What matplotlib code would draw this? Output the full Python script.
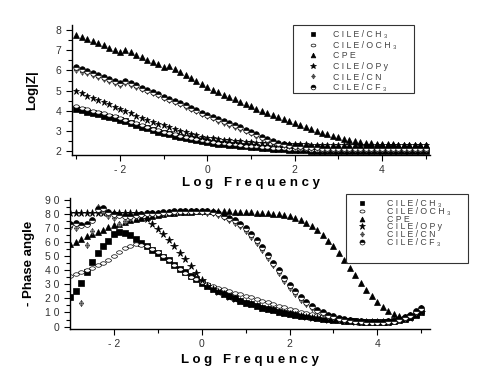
import numpy as np
import matplotlib
matplotlib.use("Agg")
import matplotlib.pyplot as plt
from matplotlib.path import Path
from matplotlib.patches import Rectangle

plt.rcParams['font.family'] = ['Liberation Sans', 'DejaVu Sans']

# log frequency grid (8 points per decade, -3 .. 5)
log_f = np.linspace(-3, 5, 65)

labels = ["C I L E / C H \u2083",
          "C I L E / O C H \u2083",
          "C P E",
          "C I L E / O P y",
          "C I L E / C N",
          "C I L E / C F \u2083"]

# ---- Log|Z| ----
z_ch3 = [4.07, 4.02, 3.96, 3.90, 3.83, 3.76, 3.69, 3.62,
         3.55, 3.47, 3.39, 3.30, 3.21, 3.12, 3.04, 2.96,
         2.89, 2.82, 2.76, 2.70, 2.64, 2.59, 2.54, 2.49,
         2.45, 2.41, 2.37, 2.34, 2.31, 2.28, 2.25, 2.23,
         2.20, 2.18, 2.16, 2.14, 2.12, 2.10, 2.08, 2.07,
         2.05, 2.04, 2.03, 2.02, 2.02, 2.01, 2.01, 2.00,
         2.00, 2.00, 2.00, 2.00, 2.00, 2.00, 2.00, 2.00,
         2.00, 2.00, 2.00, 2.00, 2.00, 2.00, 2.00, 2.00,
         2.00]
z_och3 = [4.22, 4.15, 4.08, 4.01, 3.94, 3.87, 3.79, 3.72,
          3.64, 3.55, 3.46, 3.37, 3.28, 3.19, 3.10, 3.02,
          2.95, 2.88, 2.82, 2.76, 2.70, 2.65, 2.60, 2.55,
          2.50, 2.46, 2.42, 2.39, 2.36, 2.33, 2.30, 2.27,
          2.25, 2.23, 2.21, 2.19, 2.17, 2.15, 2.13, 2.12,
          2.10, 2.09, 2.08, 2.07, 2.06, 2.06, 2.05, 2.05,
          2.05, 2.05, 2.05, 2.05, 2.05, 2.05, 2.05, 2.05,
          2.05, 2.05, 2.05, 2.05, 2.05, 2.05, 2.05, 2.05,
          2.05]
z_cpe = [7.78, 7.67, 7.57, 7.46, 7.36, 7.25, 7.14, 7.04,
         6.93, 7.02, 6.90, 6.78, 6.66, 6.54, 6.42, 6.30,
         6.15, 6.22, 6.05, 5.90, 5.75, 5.61, 5.46, 5.32,
         5.17, 5.04, 4.92, 4.80, 4.68, 4.56, 4.45, 4.34,
         4.22, 4.11, 4.00, 3.90, 3.80, 3.70, 3.60, 3.50,
         3.40, 3.30, 3.20, 3.10, 3.00, 2.91, 2.83, 2.75,
         2.68, 2.61, 2.55, 2.50, 2.46, 2.42, 2.39, 2.37,
         2.35, 2.34, 2.33, 2.32, 2.31, 2.31, 2.30, 2.30,
         2.30]
z_opy = [4.98, 4.87, 4.75, 4.64, 4.53, 4.42, 4.31, 4.20,
         4.09, 3.98, 3.87, 3.76, 3.65, 3.55, 3.45, 3.36,
         3.27, 3.18, 3.09, 3.00, 2.92, 2.85, 2.78, 2.72,
         2.67, 2.63, 2.59, 2.56, 2.53, 2.50, 2.48, 2.46,
         2.44, 2.42, 2.41, 2.40, 2.38, 2.37, 2.36, 2.35,
         2.34, 2.33, 2.33, 2.32, 2.32, 2.31, 2.31, 2.30,
         2.30, 2.30, 2.30, 2.30, 2.30, 2.30, 2.30, 2.30,
         2.30, 2.30, 2.30, 2.30, 2.30, 2.30, 2.30, 2.30,
         2.30]
z_cn = [6.03, 5.94, 5.85, 5.76, 5.66, 5.57, 5.48, 5.38,
        5.28, 5.36, 5.26, 5.16, 5.06, 4.96, 4.86, 4.76,
        4.65, 4.54, 4.43, 4.32, 4.21, 4.10, 3.98, 3.86,
        3.73, 3.62, 3.51, 3.40, 3.30, 3.20, 3.09, 2.98,
        2.87, 2.76, 2.64, 2.53, 2.43, 2.35, 2.28, 2.23,
        2.19, 2.17, 2.15, 2.14, 2.13, 2.12, 2.12, 2.12,
        2.12, 2.12, 2.12, 2.12, 2.12, 2.12, 2.12, 2.12,
        2.12, 2.12, 2.12, 2.12, 2.12, 2.12, 2.12, 2.12,
        2.12]
z_cf3 = [6.17, 6.07, 5.97, 5.87, 5.77, 5.67, 5.57, 5.47,
         5.37, 5.48, 5.37, 5.26, 5.15, 5.04, 4.93, 4.82,
         4.70, 4.59, 4.48, 4.37, 4.26, 4.15, 4.03, 3.90,
         3.77, 3.67, 3.57, 3.47, 3.37, 3.27, 3.17, 3.06,
         2.95, 2.84, 2.72, 2.60, 2.50, 2.42, 2.35, 2.30,
         2.26, 2.23, 2.21, 2.19, 2.18, 2.17, 2.16, 2.16,
         2.15, 2.15, 2.15, 2.15, 2.15, 2.15, 2.15, 2.15,
         2.15, 2.15, 2.15, 2.15, 2.15, 2.15, 2.15, 2.15,
         2.15]

# ---- - Phase angle ----
p_ch3 = [21, 25, 31, 39, 46, 52, 57, 61,
         66, 67, 66.5, 65, 62, 59.5, 57, 54.5,
         52, 49.5, 47, 44, 41, 38.5, 36, 33.5,
         31, 29, 27, 25, 23, 21.5, 20, 18.5,
         17, 15.8, 14.6, 13.5, 12.5, 11.6, 10.7, 9.9,
         9.2, 8.5, 7.8, 7.2, 6.6, 6.1, 5.6, 5.2,
         4.8, 4.4, 4.1, 3.8, 3.6, 3.4, 3.3, 3.2,
         3.2, 3.3, 3.5, 3.9, 4.5, 5.3, 6.5, 8.0,
         10]
p_och3 = [36, 37.5, 39, 40.5, 42, 43.5, 45, 47,
          50, 53, 56, 57.5, 58.5, 58, 57, 55.5,
          53, 50, 47, 44, 41, 38, 35.5, 33.5,
          31.5, 30, 28.5, 27.5, 26.5, 25.3, 24.2, 23.1,
          22, 20.8, 19.6, 18.4, 17.2, 16, 14.8, 13.7,
          12.6, 11.6, 10.6, 9.7, 8.9, 8.2, 7.5, 6.9,
          6.3, 5.8, 5.3, 4.9, 4.5, 4.2, 4.0, 3.8,
          3.7, 3.7, 3.8, 4.1, 4.6, 5.4, 6.6, 8.2,
          10]
p_cpe = [59, 60.5, 62.5, 64.5, 66, 67.5, 69, 70.5,
         72, 73.3, 74.5, 75.6, 76.6, 77.5, 78.3, 79,
         79.6, 80.1, 80.5, 80.9, 81.2, 81.5, 81.7, 81.9,
         82, 82, 82, 82, 82, 81.9, 81.8, 81.6,
         81.4, 81.2, 81, 80.8, 80.5, 80.2, 79.8, 79.3,
         78.5, 77.3, 75.8, 73.8, 71.3, 68.4, 65, 61.2,
         57, 52.5, 47.5, 42, 36.5, 31, 26, 21.5,
         17.5, 14, 11, 9, 7.5, 7, 7.5, 9,
         11.5]
p_opy = [81, 81, 81, 81, 81, 81, 81, 81,
         81, 81, 81, 81, 80.5, 79, 76.5, 73,
         69.5, 65.5, 61.5, 57, 52.5, 48, 43, 38,
         33, 29, 26.5, 24.5, 22.8, 21.2, 19.7, 18.3,
         17, 15.8, 14.6, 13.5, 12.5, 11.5, 10.6, 9.8,
         9, 8.3, 7.6, 7, 6.4, 5.9, 5.4, 5,
         4.6, 4.3, 4.0, 3.7, 3.5, 3.3, 3.2, 3.1,
         3.1, 3.2, 3.4, 3.8, 4.4, 5.2, 6.4, 7.9,
         10]
p_cn = [71, 70, 17, 58, 68, 85, 82, 79,
        77, 73, 75, 77.5, 79, 80, 80.5, 81,
        81, 81, 81.5, 81.5, 81.5, 82, 82, 82,
        81.5, 81, 80.5, 79.5, 78, 76, 74, 71.5,
        68, 64, 59.5, 54.5, 49, 43.5, 38, 32.5,
        27.5, 23, 19, 16, 13, 11, 9.2, 7.8,
        6.6, 5.7, 5, 4.4, 3.9, 3.5, 3.2, 3.0,
        2.9, 3.0, 3.3, 3.9, 4.8, 6.2, 8.1, 10.5,
        13]
p_cf3 = [73, 73.5, 72.5, 73, 76, 83.5, 84, 81.5,
         80, 79.5, 79, 79, 79.5, 80, 80.5, 81,
         81, 81.5, 81.5, 82, 82, 82.5, 82.5, 82.5,
         82.5, 82, 81.5, 80.5, 79, 77.5, 75.5, 73,
         70, 66, 61.5, 56.5, 51, 45.5, 40, 34.5,
         29.5, 25, 21, 17.5, 14.5, 12, 10, 8.5,
         7.2, 6.2, 5.4, 4.7, 4.2, 3.8, 3.5, 3.3,
         3.2, 3.3, 3.6, 4.2, 5.1, 6.5, 8.4, 11,
         13.5]

# markers
circ = Path.unit_circle()
ellipse = Path(circ.vertices * [1.0, 0.6], circ.codes)
cn_mark = Path([(0, -1), (0.75, 0), (0, 1), (-0.75, 0), (0, -1),
                (0, -1), (0, 1), (-0.75, 0), (0.75, 0)],
               [Path.MOVETO, Path.LINETO, Path.LINETO, Path.LINETO, Path.CLOSEPOLY,
                Path.MOVETO, Path.LINETO, Path.MOVETO, Path.LINETO])

styles = [
    dict(marker='s', mfc='black', mec='black'),
    dict(marker=ellipse, mfc='white', mec='black'),
    dict(marker='^', mfc='black', mec='black'),
    dict(marker='*', mfc='black', mec='black'),
    dict(marker=cn_mark, mfc='#c8c8c8', mec='#444444'),
    dict(marker='o', fillstyle='top', mfc='black', mfcalt='white', mec='black'),
]

W, H = 480, 370
fig = plt.figure(figsize=(4.8, 3.7), dpi=100)
ax1 = fig.add_axes([0.150, 0.581, 0.746, 0.351])
ax2 = fig.add_axes([0.146, 0.111, 0.750, 0.354])


def style_axes(ax):
    for s in ['top', 'right']:
        ax.spines[s].set_visible(False)
    for s in ['left', 'bottom']:
        ax.spines[s].set_linewidth(1.0)
    ax.tick_params(which='both', direction='out', colors='black',
                   labelcolor='#333333', labelsize=7.5, width=0.8)
    ax.tick_params(which='major', length=4)
    ax.tick_params(which='minor', length=3)


def add_legend(ax, handles, box, hlen, hpad, lspace):
    # box = (left, top, width, height) in pixels
    x0, y0, bw, bh = box
    leg = ax.legend(handles, labels, loc='upper left',
                    bbox_to_anchor=(x0 / W, 1 - y0 / H),
                    bbox_transform=fig.transFigure, frameon=False,
                    fontsize=6.3, handlelength=hlen, handletextpad=hpad,
                    labelspacing=lspace, borderpad=0.6, borderaxespad=0,
                    numpoints=1, markerscale=0.85)
    for t in leg.get_texts():
        t.set_color('#444444')
    fig.add_artist(Rectangle((x0 / W, 1 - (y0 + bh) / H), bw / W, bh / H,
                             transform=fig.transFigure, fill=False,
                             ec='#333333', lw=0.8))


# top panel
zs = [z_ch3, z_och3, z_cpe, z_opy, z_cn, z_cf3]
h1 = []
for z, st in zip(zs, styles):
    ms = 5 if st['marker'] == '*' else 4
    ln, = ax1.plot(log_f, z, ls='none', ms=ms, mew=0.5, **st)
    h1.append(ln)
ax1.set_xlim(-3.1, 5.1)
ax1.set_ylim(1.8, 8.25)
ax1.set_xticks([-2, 0, 2, 4])
ax1.set_xticklabels(['- 2', '0', '2', '4'])
ax1.set_xticks([-3, -1, 1, 3, 5], minor=True)
ax1.set_yticks([2, 3, 4, 5, 6, 7, 8])
ax1.set_yticks(np.arange(2.5, 8, 1.0), minor=True)
style_axes(ax1)
ax1.set_xlabel('L o g   F r e q u e n c y', fontsize=9.5, fontweight='bold')
ax1.set_ylabel('Log|Z|', fontsize=9.5, fontweight='bold')
ax1.xaxis.set_label_coords(0.5, -0.17)
ax1.yaxis.set_label_coords(-0.095, 0.5)
add_legend(ax1, h1, (293, 25, 121, 68), 3.4, 0.6, 0.18)

# bottom panel
ps = [p_ch3, p_och3, p_cpe, p_opy, p_cn, p_cf3]
h2 = []
for p, st in zip(ps, styles):
    ms = 5.5 if st['marker'] == '*' else 4.2
    ln, = ax2.plot(log_f, p, ls='none', ms=ms, mew=0.5, **st)
    h2.append(ln)
ax2.set_xlim(-3.0, 5.2)
ax2.set_ylim(-1.7, 91.5)
ax2.set_xticks([-2, 0, 2, 4])
ax2.set_xticklabels(['- 2', '0', '2', '4'])
ax2.set_xticks([-1, 1, 3, 5], minor=True)
ax2.set_yticks(np.arange(0, 91, 10))
ax2.set_yticklabels(['0', '1 0', '2 0', '3 0', '4 0', '5 0', '6 0', '7 0', '8 0', '9 0'])
ax2.set_yticks(np.arange(5, 90, 10), minor=True)
style_axes(ax2)
ax2.set_xlabel('L o g   F r e q u e n c y', fontsize=9.5, fontweight='bold')
ax2.set_ylabel('- Phase angle', fontsize=9.5, fontweight='bold')
ax2.xaxis.set_label_coords(0.5, -0.19)
ax2.yaxis.set_label_coords(-0.097, 0.5)
add_legend(ax2, h2, (346, 194, 122, 69), 2.5, 1.6, -0.15)

fig.savefig('out.png', dpi=100)
